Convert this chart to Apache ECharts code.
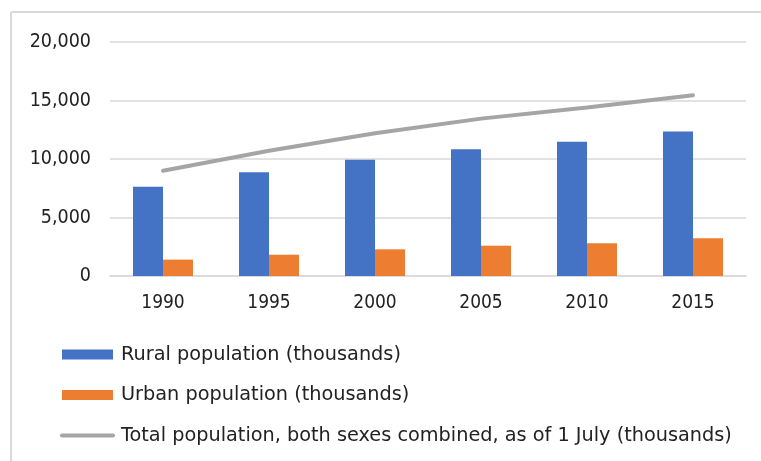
<!DOCTYPE html>
<html lang="en">
<head>
  <meta charset="UTF-8">
  <title>Population</title>
  <script src="https://cdn.jsdelivr.net/npm/echarts@6/dist/echarts.min.js"></script>
  <style>
    html, body { margin: 0; padding: 0; background: #fff; overflow: hidden; }
    #chart { width: 761px; height: 461px; }
  </style>
</head>
<body>
  <div id="chart"></div>
  <script>
    const years = ['1990', '1995', '2000', '2005', '2010', '2015'];
    const rural = [7630, 8860, 9940, 10830, 11480, 12340];
    const urban = [1400, 1820, 2280, 2590, 2790, 3220];
    const total = [9000, 10700, 12200, 13450, 14400, 15450];
    const yTicks = [0, 5000, 10000, 15000, 20000];

    const axisFont = "'DejaVu Sans Condensed', 'DejaVu Sans'";
    const legendFont = 'DejaVu Sans';
    const totalName = 'Total population, both sexes combined, as of 1 July (thousands)';

    const chart = echarts.init(document.getElementById('chart'));
    const option = {
      backgroundColor: '#fff',
      animation: false,
      // frame: only left and top edges show inside the picture
      graphic: [
        {
          type: 'line',
          shape: { x1: 11, y1: 12, x2: 761, y2: 12 },
          style: { stroke: '#d9d9d9', lineWidth: 2 },
          silent: true
        },
        {
          type: 'line',
          shape: { x1: 11, y1: 12, x2: 11, y2: 461 },
          style: { stroke: '#d9d9d9', lineWidth: 2 },
          silent: true
        }
      ],
      grid: { left: 110, right: 15, top: 42, bottom: 185 },
      legend: {
        orient: 'vertical',
        left: 55,
        top: 340,
        itemWidth: 51,
        itemHeight: 10,
        itemGap: 21.5,
        textStyle: {
          fontFamily: legendFont, fontSize: 19.3, lineHeight: 19,
          color: '#222', padding: [0, 0, 0, 3]
        },
        data: [
          { name: 'Rural population (thousands)', icon: 'rect' },
          { name: 'Urban population (thousands)', icon: 'rect' },
          {
            name: totalName,
            itemStyle: { opacity: 0 },
            lineStyle: { color: '#a5a5a5', width: 4, cap: 'round' }
          }
        ]
      },
      xAxis: {
        type: 'category',
        data: years,
        axisTick: { show: false },
        axisLine: { lineStyle: { color: '#d9d9d9', width: 1.5 } },
        axisLabel: { margin: 18, fontFamily: axisFont, fontSize: 19, color: '#222' }
      },
      yAxis: {
        type: 'value',
        min: yTicks[0],
        max: yTicks[yTicks.length - 1],
        interval: yTicks[1] - yTicks[0],
        axisLine: { show: false },
        axisTick: { show: false },
        splitLine: { lineStyle: { color: '#d9d9d9', width: 1.5 } },
        axisLabel: {
          margin: 19,
          fontFamily: axisFont,
          fontSize: 19.5,
          color: '#222',
          formatter: v => v.toLocaleString('en-US')
        }
      },
      series: [
        {
          name: 'Rural population (thousands)',
          type: 'bar',
          data: rural,
          barWidth: 30,
          barGap: '0%',
          itemStyle: { color: '#4472c4' }
        },
        {
          name: 'Urban population (thousands)',
          type: 'bar',
          data: urban,
          barWidth: 30,
          itemStyle: { color: '#ed7d31' }
        },
        {
          name: totalName,
          type: 'line',
          data: total,
          symbol: 'none',
          lineStyle: { color: '#a5a5a5', width: 4, cap: 'round' },
          itemStyle: { color: '#a5a5a5' }
        }
      ]
    };
    chart.setOption(option);
  </script>
</body>
</html>
